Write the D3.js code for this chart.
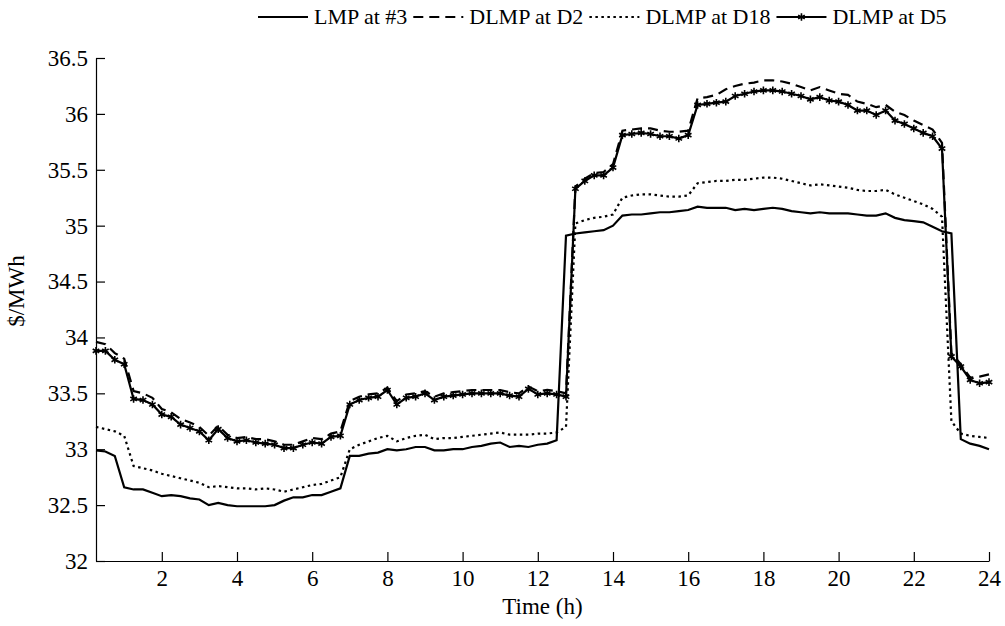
<!DOCTYPE html>
<html>
<head>
<meta charset="utf-8">
<script src="https://cdn.jsdelivr.net/npm/d3@7"></script>
<style>
  body { margin: 0; background: #fff; }
  text { font-family: "Liberation Serif", "Times New Roman", serif; fill: #000; }
</style>
</head>
<body>
<div id="chart"></div>
<script>

// DATA (15 min steps)
let hours = [0.25,0.5,0.75,1,1.25,1.5,1.75,2,2.25,2.5,2.75,3,3.25,3.5,3.75,4,
  4.25,4.5,4.75,5,5.25,5.5,5.75,6,6.25,6.5,6.75,7,7.25,7.5,7.75,8,
  8.25,8.5,8.75,9,9.25,9.5,9.75,10,10.25,10.5,10.75,11,11.25,11.5,11.75,12,
  12.25,12.5,12.75,13,13.25,13.5,13.75,14,14.25,14.5,14.75,15,15.25,15.5,15.75,16,
  16.25,16.5,16.75,17,17.25,17.5,17.75,18,18.25,18.5,18.75,19,19.25,19.5,19.75,20,
  20.25,20.5,20.75,21,21.25,21.5,21.75,22,22.25,22.5,22.75,23,23.25,23.5,23.75,24];

let lmp3 = [32.99,32.98,32.94,32.66,32.64,32.64,32.61,32.58,32.59,32.58,32.56,32.55,32.50,32.52,32.50,32.49,
  32.49,32.49,32.49,32.50,32.54,32.57,32.57,32.59,32.59,32.62,32.65,32.94,32.94,32.96,32.97,33.00,
  32.99,33.00,33.02,33.02,32.99,32.99,33.00,33.00,33.02,33.03,33.05,33.06,33.02,33.03,33.02,33.04,
  33.05,33.08,34.91,34.93,34.94,34.95,34.96,35.00,35.09,35.10,35.10,35.11,35.12,35.12,35.13,35.14,
  35.17,35.16,35.16,35.16,35.14,35.15,35.14,35.15,35.16,35.15,35.13,35.12,35.11,35.12,35.11,35.11,
  35.11,35.10,35.09,35.09,35.11,35.07,35.05,35.04,35.03,34.99,34.95,34.93,33.09,33.05,33.03,33.00];

let dlmpD2 = [33.96,33.94,33.86,33.81,33.52,33.50,33.46,33.36,33.33,33.27,33.24,33.20,33.12,33.21,33.13,33.10,
  33.11,33.09,33.09,33.07,33.04,33.04,33.07,33.10,33.09,33.14,33.16,33.43,33.47,33.49,33.50,33.55,
  33.43,33.49,33.50,33.52,33.47,33.50,33.51,33.52,33.53,33.53,33.53,33.53,33.51,33.50,33.56,33.52,
  33.53,33.52,33.50,35.35,35.42,35.47,35.48,35.55,35.85,35.86,35.87,35.87,35.85,35.84,35.84,35.85,
  36.14,36.15,36.17,36.22,36.25,36.27,36.28,36.30,36.30,36.29,36.27,36.24,36.21,36.24,36.21,36.18,
  36.17,36.11,36.09,36.06,36.08,36.02,35.99,35.94,35.90,35.86,35.74,33.86,33.76,33.64,33.65,33.67];

let dlmpD18 = [33.20,33.18,33.16,33.12,32.85,32.83,32.81,32.78,32.76,32.74,32.72,32.70,32.66,32.67,32.66,32.65,
  32.65,32.64,32.65,32.64,32.62,32.64,32.66,32.68,32.69,32.72,32.75,33.00,33.04,33.07,33.10,33.12,
  33.07,33.10,33.12,33.13,33.09,33.10,33.10,33.11,33.12,33.13,33.14,33.15,33.13,33.13,33.13,33.14,
  33.14,33.15,33.20,35.02,35.05,35.07,35.08,35.10,35.25,35.27,35.28,35.28,35.27,35.26,35.26,35.27,
  35.38,35.39,35.40,35.40,35.41,35.41,35.42,35.43,35.43,35.42,35.40,35.38,35.36,35.37,35.36,35.35,
  35.34,35.32,35.31,35.31,35.32,35.28,35.25,35.22,35.19,35.15,35.08,33.25,33.14,33.12,33.11,33.10];

let dlmpD5 = [33.88,33.88,33.80,33.76,33.45,33.44,33.40,33.31,33.29,33.22,33.19,33.16,33.08,33.18,33.10,33.07,
  33.08,33.06,33.05,33.04,33.01,33.01,33.04,33.06,33.05,33.11,33.12,33.40,33.44,33.46,33.47,33.53,
  33.40,33.46,33.47,33.50,33.44,33.47,33.48,33.49,33.50,33.50,33.50,33.50,33.48,33.47,33.54,33.49,
  33.50,33.49,33.47,35.33,35.40,35.45,35.45,35.52,35.81,35.82,35.83,35.82,35.80,35.80,35.78,35.81,
  36.08,36.09,36.10,36.11,36.16,36.18,36.20,36.21,36.21,36.20,36.18,36.16,36.13,36.15,36.12,36.11,
  36.08,36.03,36.03,35.99,36.03,35.94,35.91,35.87,35.83,35.80,35.69,33.83,33.74,33.62,33.59,33.60];

let seriesNames = ["LMP at #3", "DLMP at D2", "DLMP at D18", "DLMP at D5"];
let xTicks = [2,4,6,8,10,12,14,16,18,20,22,24];
let yTicks = [32,32.5,33,33.5,34,34.5,35,35.5,36,36.5];

let series = [
  {name: seriesNames[0], values: lmp3, dash: null, marker: false},
  {name: seriesNames[1], values: dlmpD2, dash: "10,6", marker: false},
  {name: seriesNames[2], values: dlmpD18, dash: "2.5,3.5", marker: false},
  {name: seriesNames[3], values: dlmpD5, dash: null, marker: true}
];

// CHART AREA
let margin = {top: 58, right: 16, bottom: 65, left: 96},
    width = 1005 - margin.left - margin.right,
    height = 626 - margin.top - margin.bottom;

let svg = d3.select("#chart").append("svg")
    .attr("width", 1005)
    .attr("height", 626);

let g = svg.append("g")
    .attr("transform", "translate(" + margin.left + "," + margin.top + ")");

// SCALES
let x = d3.scaleLinear()
    .domain([0.25, 24])
    .range([0, width]);

let y = d3.scaleLinear()
    .domain([32, 36.5])
    .range([height, 0]);

// AXES (ticks point inwards)
let xAxis = d3.axisBottom(x)
    .tickValues(xTicks)
    .tickSizeInner(-9)
    .tickSizeOuter(0)
    .tickPadding(9);

let yAxis = d3.axisLeft(y)
    .tickValues(yTicks)
    .tickSizeInner(-9)
    .tickSizeOuter(0)
    .tickPadding(8)
    .tickFormat(d => d);

let xAxisGroup = g.append("g")
    .attr("class", "x-axis axis")
    .attr("transform", "translate(0," + height + ")")
    .call(xAxis);

let yAxisGroup = g.append("g")
    .attr("class", "y-axis axis")
    .call(yAxis);

svg.selectAll(".axis text")
    .style("font-family", '"Liberation Serif", serif')
    .style("font-size", "23px");
svg.selectAll(".axis path, .axis line")
    .attr("stroke", "#000")
    .attr("stroke-width", 1.2);

// AXIS LABELS
svg.append("text")
    .attr("x", margin.left + width / 2)
    .attr("y", 614)
    .attr("text-anchor", "middle")
    .style("font-size", "23px")
    .text("Time (h)");

svg.append("text")
    .attr("transform", "translate(24,291) rotate(-90)")
    .attr("text-anchor", "middle")
    .style("font-size", "23px")
    .text("$/MWh");

// LINES
let line = d3.line()
    .x((d, i) => x(hours[i]))
    .y(d => y(d));

g.selectAll(".series")
    .data(series)
    .enter()
    .append("path")
    .attr("class", "series")
    .attr("d", d => line(d.values))
    .attr("fill", "none")
    .attr("stroke", "#000")
    .attr("stroke-width", 2.2)
    .attr("stroke-dasharray", d => d.dash);

let asterisk = d3.symbol().type(d3.symbolAsterisk).size(40);

g.selectAll(".marker")
    .data(dlmpD5)
    .enter()
    .append("path")
    .attr("class", "marker")
    .attr("transform", (d, i) => "translate(" + x(hours[i]) + "," + y(d) + ")")
    .attr("d", asterisk)
    .attr("fill", "none")
    .attr("stroke", "#000")
    .attr("stroke-width", 1.6);

// LEGEND
let legend = svg.append("g")
    .attr("transform", "translate(258,17)");

let lx = 0;
series.forEach(function (s) {
    let item = legend.append("g").attr("transform", "translate(" + lx + ",0)");
    item.append("line")
        .attr("x1", 0).attr("x2", 50)
        .attr("y1", 0).attr("y2", 0)
        .attr("stroke", "#000")
        .attr("stroke-width", 2.2)
        .attr("stroke-dasharray", s.dash);
    if (s.marker) {
        item.append("path")
            .attr("transform", "translate(25,0)")
            .attr("d", asterisk)
            .attr("fill", "none")
            .attr("stroke", "#000")
            .attr("stroke-width", 1.6);
    }
    let t = item.append("text")
        .attr("x", 56)
        .attr("y", 7)
        .style("font-size", "22px")
        .text(s.name);
    lx += 56 + t.node().getComputedTextLength() + 6;
});

</script>
</body>
</html>
